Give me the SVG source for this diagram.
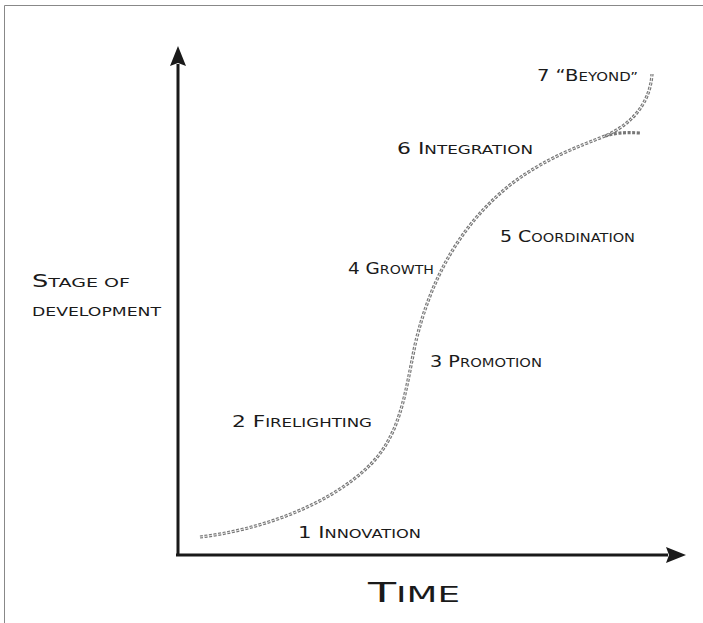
<svg xmlns="http://www.w3.org/2000/svg" width="703" height="623" viewBox="0 0 703 623">
<style>
.lbl{font-family:"DejaVu Sans","Liberation Sans",sans-serif;text-transform:uppercase;fill:#1a1a1a;font-size:11.5px}
.c{font-size:15px}
.big{font-size:13px}
.big .c{font-size:17.5px}
.axis{stroke:#1a1a1a;stroke-width:3;fill:none}
.curve{fill:none;stroke:#777;stroke-width:3.2;stroke-dasharray:3 1.6}
.curvein{fill:none;stroke:#fff;stroke-width:0.8;stroke-dasharray:3 1.6}
</style>
<defs>
<marker id="ah" viewBox="0 0 20 16" refX="2" refY="8" markerWidth="20" markerHeight="16" markerUnits="userSpaceOnUse" orient="auto">
<path d="M0,0 L20,8 L0,16 L3,8 Z" fill="#1a1a1a"/>
</marker>
</defs>
<rect x="0" y="0" width="703" height="623" fill="#fff"/>
<path d="M4.5,623 L4.5,5.5 L703,5.5" fill="none" stroke="#888" stroke-width="1"/>
<g id="connectors">
<path class="axis" d="M178,556 L178,64" marker-end="url(#ah)"/>
<path class="axis" d="M176,555 L668,555" marker-end="url(#ah)"/>
<path class="curve" d="M200,537 C260,530 330,505 370,465 C400,435 405,395 415,345 C430,280 460,225 510,185 C545,158 580,146 605,136 C630,125 650,105 652,74"/>
<path class="curve" d="M605,136 C615,133 625,132 640,133"/>
<path class="curvein" d="M200,537 C260,530 330,505 370,465 C400,435 405,395 415,345 C430,280 460,225 510,185 C545,158 580,146 605,136 C630,125 650,105 652,74"/>
</g>
<g id="ylabel"><text class="lbl big" x="32" y="287" textLength="98" lengthAdjust="spacingAndGlyphs"><tspan class="c">S</tspan>tage of</text>
<text class="lbl big" x="32" y="316" textLength="129" lengthAdjust="spacingAndGlyphs">development</text></g>
<g id="xlabel"><text class="lbl" x="368" y="602" style="font-size:21px" textLength="92" lengthAdjust="spacingAndGlyphs"><tspan style="font-size:27px">T</tspan>ime</text></g>
<g id="s1"><text class="lbl" x="298" y="538" textLength="123" lengthAdjust="spacingAndGlyphs"><tspan class="c">1  I</tspan>nnovation</text></g>
<g id="s2"><text class="lbl" x="232" y="427" textLength="140" lengthAdjust="spacingAndGlyphs"><tspan class="c">2 F</tspan>irelighting</text></g>
<g id="s3"><text class="lbl" x="430" y="367" textLength="112" lengthAdjust="spacingAndGlyphs"><tspan class="c">3 P</tspan>romotion</text></g>
<g id="s4"><text class="lbl" x="348" y="274" textLength="86" lengthAdjust="spacingAndGlyphs"><tspan class="c">4 G</tspan>rowth</text></g>
<g id="s5"><text class="lbl" x="500" y="242" textLength="135" lengthAdjust="spacingAndGlyphs"><tspan class="c">5 C</tspan>oordination</text></g>
<g id="s6"><text class="lbl" x="397" y="154" textLength="136" lengthAdjust="spacingAndGlyphs"><tspan class="c">6 I</tspan>ntegration</text></g>
<g id="s7"><text class="lbl" x="537" y="81" textLength="101" lengthAdjust="spacingAndGlyphs"><tspan class="c">7 “B</tspan>eyond”</text></g>
</svg>
